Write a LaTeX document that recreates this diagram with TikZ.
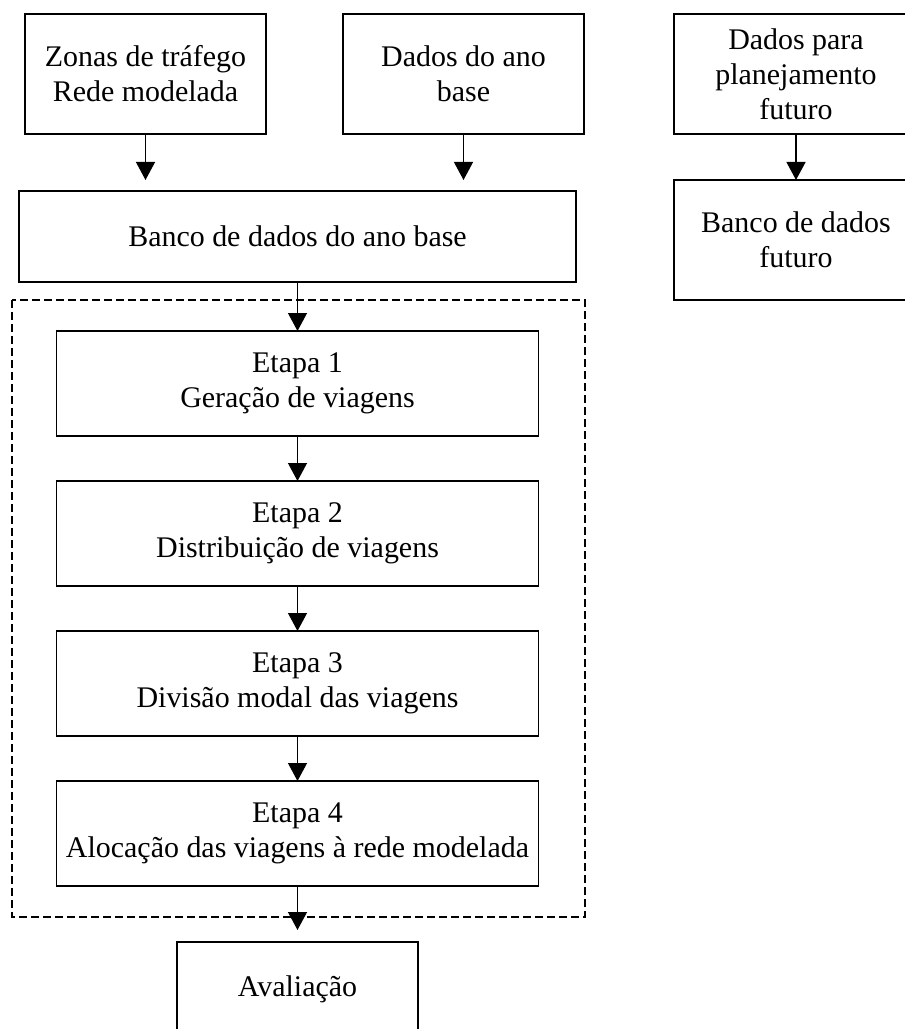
\documentclass[tikz,border=0pt]{standalone}
\usepackage{fontspec}
\setmainfont{Liberation Serif}
\usetikzlibrary{arrows.meta,positioning}

\begin{document}
\begin{tikzpicture}[every node/.style={outer sep=0pt},
    font=\fontsize{21.3}{24.9}\selectfont,
    box/.style={draw,line width=1pt,align=center,inner sep=0pt},
    topbox/.style={box,minimum width=6.025cm,minimum height=3cm},
    etapa/.style={box,minimum width=12.05cm,minimum height=2.625cm},
    arr/.style={-{Triangle[width=0.475cm,length=0.45cm]},line width=0.9pt}]
   \useasboundingbox (0,0) rectangle (22.6,-25.725);

     \node[topbox,anchor=north west] (zonas) at (0.625,-0.35)
      {Zonas de tráfego\\Rede modelada};
     \node[topbox,right=1.925cm of zonas] (anobase) {Dados do ano\\base};
     \node[topbox,minimum width=6.1cm,right=2.25cm of anobase] (futdados)
      {Dados para\\planejamento\\futuro};
     \node[topbox,minimum width=6.1cm,below=1.15cm of futdados] (bancofut)
      {Banco de dados\\futuro};

     \node[box,minimum width=13.925cm,minimum height=2.275cm,anchor=north]
      (banco) at (7.4375,-4.775) {Banco de dados do ano base};

     \node[etapa,below=1.225cm of banco] (e1) {Etapa 1\\Geração de viagens};
     \node[etapa,below=1.125cm of e1] (e2) {Etapa 2\\Distribuição de viagens};
     \node[etapa,below=1.125cm of e2] (e3) {Etapa 3\\Divisão modal das viagens};
     \node[etapa,below=1.125cm of e3] (e4)
      {Etapa 4\\Alocação das viagens à rede modelada};
     \node[box,minimum width=6.025cm,minimum height=2.35cm,below=1.4cm of e4]
      (aval) {Avaliação};

     % moldura tracejada das etapas
     \draw[dashed,line width=0.9pt,dash pattern=on 0.2cm off 0.1cm]
      (0.3,-7.5) rectangle (14.625,-22.925);

     \foreach \X in {zonas,anobase}
      \draw[arr,shorten >=0.275cm] (\X.south) -- (\X |- banco.north);
     \draw[arr] (futdados) -- (bancofut);
     \draw[arr] (banco) -- (e1);
     \foreach \X [count=\Y from 2] in {1,2,3}
      \draw[arr] (e\X) -- (e\Y);
     \draw[arr,shorten >=0.3cm] (e4) -- (aval);
   \end{tikzpicture}
\end{document}
